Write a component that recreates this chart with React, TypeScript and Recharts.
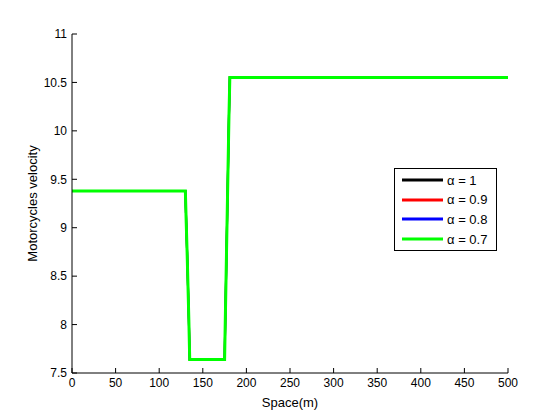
import { LineChart, Line, XAxis, YAxis, Legend } from "recharts";

// space along the road (m)
const space = [0, 130, 131, 132, 133, 134, 135, 175, 176, 177, 178, 179, 180, 181, 500];

// velocity for each alpha (the four curves coincide in the figure)
const velA1 = [9.38, 9.38, 9.05, 8.75, 8.4, 8.05, 7.64, 7.64, 8.15, 8.65, 9.15, 9.65, 10.15, 10.55, 10.55];
const velA09 = [9.38, 9.38, 9.05, 8.75, 8.4, 8.05, 7.64, 7.64, 8.15, 8.65, 9.15, 9.65, 10.15, 10.55, 10.55];
const velA08 = [9.38, 9.38, 9.05, 8.75, 8.4, 8.05, 7.64, 7.64, 8.15, 8.65, 9.15, 9.65, 10.15, 10.55, 10.55];
const velA07 = [9.38, 9.38, 9.05, 8.75, 8.4, 8.05, 7.64, 7.64, 8.15, 8.65, 9.15, 9.65, 10.15, 10.55, 10.55];

const xTicks = [0, 50, 100, 150, 200, 250, 300, 350, 400, 450, 500];
const yTicks = [7.5, 8, 8.5, 9, 9.5, 10, 10.5, 11];

const series = [
  { key: "a1", name: "α = 1", color: "#000000", width: 2 },
  { key: "a09", name: "α = 0.9", color: "#ff0000", width: 2 },
  { key: "a08", name: "α = 0.8", color: "#0000ff", width: 2 },
  { key: "a07", name: "α = 0.7", color: "#00ff00", width: 3 },
];

const data = space.map((x, i) => ({
  x,
  a1: velA1[i],
  a09: velA09[i],
  a08: velA08[i],
  a07: velA07[i],
}));

const font = "'Liberation Sans', Arial, sans-serif";

function MatlabLegend() {
  return (
    <div
      style={{
        width: 103,
        height: 83,
        boxSizing: "border-box",
        border: "1px solid #000",
        background: "#fff",
        paddingTop: 1.5,
        fontFamily: font,
        fontSize: 13,
        color: "#000",
      }}
    >
      {series.map((s) => (
        <div key={s.key} style={{ display: "flex", alignItems: "center", height: 19.6 }}>
          <svg width={41} height={4} style={{ marginLeft: 7 }}>
            <line x1={0} y1={2} x2={41} y2={2} stroke={s.color} strokeWidth={3} />
          </svg>
          <span style={{ marginLeft: 4, lineHeight: 1 }}>{s.name}</span>
        </div>
      ))}
    </div>
  );
}

export default function App() {
  return (
    <div style={{ position: "absolute", left: 0, top: 0, width: 560, height: 420, background: "#fff" }}>
      <LineChart
        width={560}
        height={420}
        data={data}
        margin={{ top: 34, right: 52, bottom: 0, left: 0 }}
        style={{ fontFamily: font }}
      >
        <XAxis
          dataKey="x"
          type="number"
          domain={[0, 500]}
          ticks={xTicks}
          height={47}
          stroke="#000"
          tick={{ fill: "#000", fontSize: 12 }}
          tickSize={-5}
          tickMargin={10}
          label={{ value: "Space(m)", position: "center", dy: 6, fill: "#000", fontSize: 13 }}
        />
        <YAxis
          type="number"
          domain={[7.5, 11]}
          ticks={yTicks}
          width={72}
          stroke="#000"
          tick={{ fill: "#000", fontSize: 12 }}
          tickSize={-5}
          tickMargin={10}
          label={{ value: "Motorcycles velocity", angle: -90, position: "center", dx: -4, fill: "#000", fontSize: 13 }}
        />
        <Legend
          layout="horizontal"
          verticalAlign="middle"
          align="center"
          content={() => <MatlabLegend />}
          wrapperStyle={{ position: "absolute", left: 394, top: 168, width: 103, right: "auto", bottom: "auto" }}
        />
        {series.map((s) => (
          <Line
            key={s.key}
            dataKey={s.key}
            name={s.name}
            type="linear"
            stroke={s.color}
            strokeWidth={s.width}
            dot={false}
            isAnimationActive={false}
          />
        ))}
      </LineChart>
    </div>
  );
}
